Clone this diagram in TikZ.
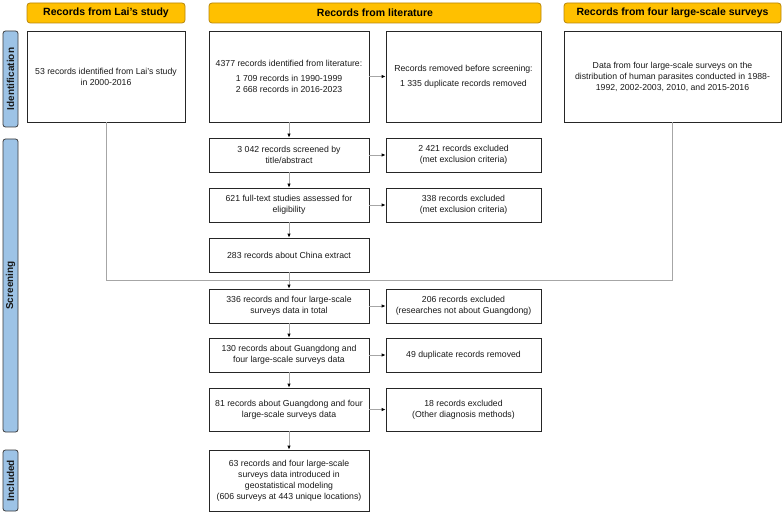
\documentclass[tikz,border=0pt]{standalone}
\usepackage{fontspec}
\setmainfont{Liberation Sans}
\usetikzlibrary{arrows.meta}
\definecolor{hdrfill}{HTML}{FFC000}
\definecolor{hdrdraw}{HTML}{B8860B}
\definecolor{barfill}{HTML}{9DC3E6}
\definecolor{bardraw}{HTML}{3A3A3A}
\definecolor{conn}{HTML}{A6A6A6}
\definecolor{txt}{HTML}{1A1A1A}
\tikzset{
  box/.style={draw=black!85, line width=0.8pt, fill=white, align=center, inner sep=2pt,
    text=txt, font=\fontsize{8.7}{11}\selectfont},
  hdr/.style={draw=hdrdraw, line width=0.8pt, fill=hdrfill, rounded corners=3pt,
    font=\fontsize{10.5}{12}\bfseries, minimum height=20pt, text=black},
  sidebar/.style={draw=bardraw, line width=0.8pt, fill=barfill, rounded corners=2.5pt,
    rotate=90, minimum height=15pt, inner sep=0pt, font=\fontsize{10}{12}\bfseries, text=black!90},
  conline/.style={draw=conn, line width=0.9pt},
  arr/.style={conline, -{Latex[black, length=4pt, width=3.5pt]}}
}
\begin{document}
\begin{tikzpicture}[x=1pt,y=-1pt]
\useasboundingbox (0,0) rectangle (784,513);
% headers
\node[hdr, minimum width=158pt] (h1) at (106,13) {Records from Lai’s study};
\node[hdr, minimum width=332pt] (h2) at (375,13) {Records from literature};
\node[hdr, minimum width=217pt] (h3) at (672.5,13) {Records from four large-scale surveys};
% side bars
\node[sidebar, minimum width=96pt] (s1) at (10.5,79) {Identification};
\node[sidebar, minimum width=293pt] (s2) at (10.5,285.5) {Screening};
\node[sidebar, minimum width=61pt] (s3) at (10.5,480.5) {Included};
% identification boxes
\node[box, minimum width=158pt, minimum height=91pt] (lai) at (106,76.5)
  {53 records identified from Lai’s study\\in 2000-2016};
\node[box, minimum width=160pt, minimum height=91pt] (lit) at (289,76.5)
  {4377 records identified from literature:\\[4pt]1 709 records in 1990-1999\\2 668 records in 2016-2023};
\node[box, minimum width=155pt, minimum height=91pt] (rem) at (463.5,76.5)
  {Records removed before screening:\\[4pt]1 335 duplicate records removed};
\node[box, minimum width=217pt, minimum height=91pt] (sur) at (672.5,76.5)
  {Data from four large-scale surveys on the\\distribution of human parasites conducted in 1988-\\1992, 2002-2003, 2010, and 2015-2016};
% screening boxes
\node[box, minimum width=160pt, minimum height=34pt] (scr) at (289,155)
  {3 042 records screened by\\title/abstract};
\node[box, minimum width=155pt, minimum height=34pt] (ex1) at (463.5,155)
  {2 421 records excluded\\(met exclusion criteria)};
\node[box, minimum width=160pt, minimum height=34pt] (ful) at (289,205)
  {621 full-text studies assessed for\\eligibility};
\node[box, minimum width=155pt, minimum height=34pt] (ex2) at (463.5,205)
  {338 records excluded\\(met exclusion criteria)};
\node[box, minimum width=160pt, minimum height=34pt] (chi) at (289,255)
  {283 records about China extract};
\node[box, minimum width=160pt, minimum height=34pt] (tot) at (289,306)
  {336 records and four large-scale\\surveys data in total};
\node[box, minimum width=155pt, minimum height=34pt] (ex3) at (463.5,306)
  {206 records excluded\\(researches not about Guangdong)};
\node[box, minimum width=160pt, minimum height=34pt] (gd) at (289,355)
  {130 records about Guangdong and\\four large-scale surveys data};
\node[box, minimum width=155pt, minimum height=34pt] (ex4) at (463.5,355)
  {49 duplicate records removed};
\node[box, minimum width=160pt, minimum height=43pt] (gd2) at (289,409.5)
  {81 records about Guangdong and four\\large-scale surveys data};
\node[box, minimum width=155pt, minimum height=43pt] (ex5) at (463.5,409.5)
  {18 records excluded\\(Other diagnosis methods)};
\node[box, minimum width=160pt, minimum height=61pt] (fin) at (289,480.5)
  {63 records and four large-scale\\surveys data introduced in\\geostatistical modeling\\(606 surveys at 443 unique locations)};
% merge point
\coordinate (m) at (289,280);
% connectors
\draw[arr] (lit) -- (rem);
\draw[arr] (lit) -- (scr);
\draw[arr] (scr) -- (ex1);
\draw[arr] (scr) -- (ful);
\draw[arr] (ful) -- (ex2);
\draw[arr] (ful) -- (chi);
\draw[conline] (lai.south) |- (m);
\draw[conline] (sur.south) |- (m);
\draw[conline] (chi.south) -- (m);
\draw[arr] (m) -- (tot.north);
\draw[arr] (tot) -- (ex3);
\draw[arr] (tot) -- (gd);
\draw[arr] (gd) -- (ex4);
\draw[arr] (gd) -- (gd2);
\draw[arr] (gd2) -- (ex5);
\draw[arr] (gd2) -- (fin);
\end{tikzpicture}
\end{document}
